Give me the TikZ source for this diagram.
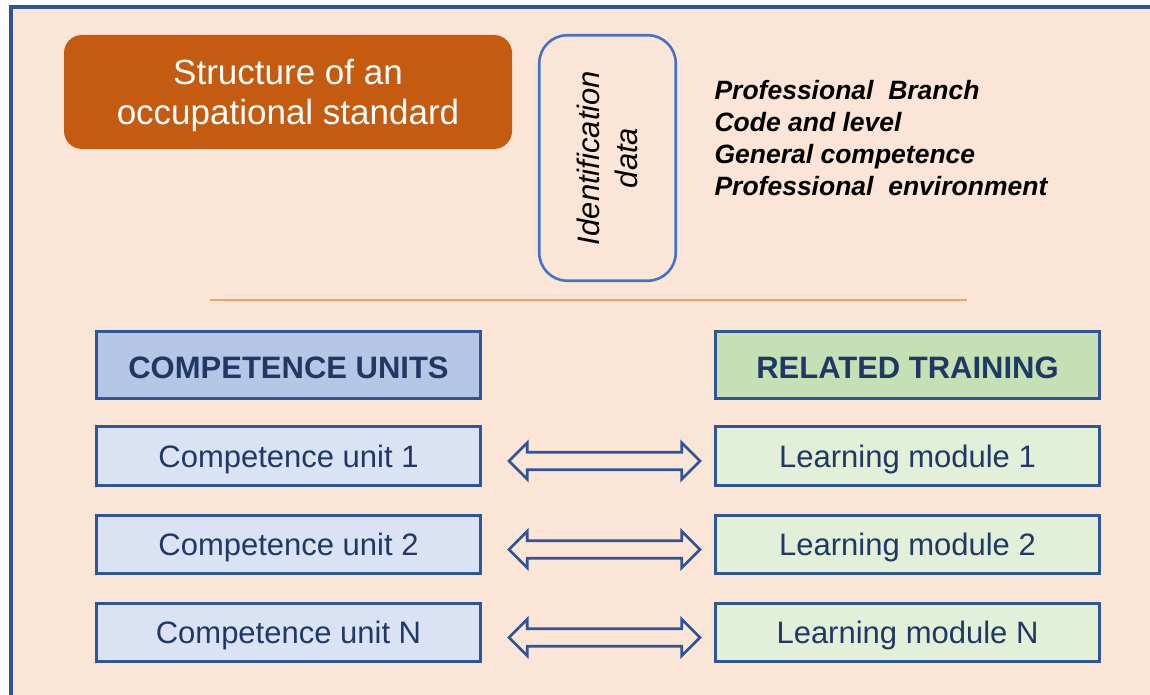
\documentclass[tikz,border=0pt]{standalone}
\usepackage{fontspec}
\setmainfont{Liberation Sans}
\usetikzlibrary{shapes.arrows}

\definecolor{peach}{HTML}{FBE5D6}
\definecolor{frameblue}{HTML}{2F5597}
\definecolor{rust}{HTML}{C55A11}
\definecolor{idblue}{HTML}{4472C4}
\definecolor{ruleorange}{HTML}{F4A060}
\definecolor{headblue}{HTML}{B4C7E7}
\definecolor{headgreen}{HTML}{C5E0B4}
\definecolor{rowblue}{HTML}{DAE3F3}
\definecolor{rowgreen}{HTML}{E2F0D9}
\definecolor{navy}{HTML}{1F3864}

\tikzset{
  unitbox/.style={draw=frameblue, line width=3.2pt, minimum width=384pt,
    minimum height=58.5pt, inner sep=0pt, text=navy, text depth=0pt,
    font=\fontsize{31}{36}\selectfont},
  headbox/.style={unitbox, minimum height=66.5pt, text height=26pt,
    text depth=0pt, font=\fontsize{31}{36}\selectfont\bfseries},
  twoway/.style={double arrow, draw=frameblue, fill=peach, line width=2.8pt,
    minimum height=191pt, inner sep=0pt, inner ysep=7.3pt,
    double arrow head extend=9.5pt, xshift=6.5pt, yshift=-5pt}
}

\begin{document}
\begin{tikzpicture}[x=1pt,y=-1pt]
\useasboundingbox (0,0) rectangle (1150,695);
%% frame
\fill[peach] (11,7) rectangle (1150,695);
\draw[frameblue, line width=3.5pt] (11,695) -- (11,7) -- (1150,7);

%% heading part
\node[fill=rust, rounded corners=18pt, minimum width=448pt, minimum height=114pt,
  text=white, align=center, text depth=0pt, font=\fontsize{35}{40}\selectfont]
  (title) at (288,92) {Structure of an\\occupational standard};
\node[draw=idblue, line width=2.6pt, rounded corners=28pt, rotate=90,
  minimum width=245.5pt, minimum height=136.5pt, align=center,
  font=\fontsize{31}{38}\selectfont\itshape]
  (ident) at (607.5,158) {Identification\\data};
\node[anchor=west, align=left,
  font=\fontsize{26.5}{32.3}\selectfont\bfseries\itshape]
  (identlist) at (711,138) {Professional\ \ Branch\\Code and level\\General competence\\Professional\ \ environment};
\draw[ruleorange, line width=2.5pt] (210,300) -- (967,300);

%% units and training
\node[headbox, fill=headblue] (units) at (288.5,365) {COMPETENCE UNITS};
\node[headbox, fill=headgreen] (training) at (907.5,365) {RELATED TRAINING};

\node[unitbox, fill=rowblue] (cu1) at (288.5,456) {Competence unit 1};
\node[unitbox, fill=rowblue] (cu2) at (288.5,544.5) {Competence unit 2};
\node[unitbox, fill=rowblue] (cuN) at (288.5,632.5) {Competence unit N};
\node[unitbox, fill=rowgreen] (lm1) at (907.5,456) {Learning module 1};
\node[unitbox, fill=rowgreen] (lm2) at (907.5,544.5) {Learning module 2};
\node[unitbox, fill=rowgreen] (lmN) at (907.5,632.5) {Learning module N};

\path (cu1.east) -- node[twoway] {} (lm1.west);
\path (cu2.east) -- node[twoway] {} (lm2.west);
\path (cuN.east) -- node[twoway] {} (lmN.west);
\end{tikzpicture}
\end{document}
